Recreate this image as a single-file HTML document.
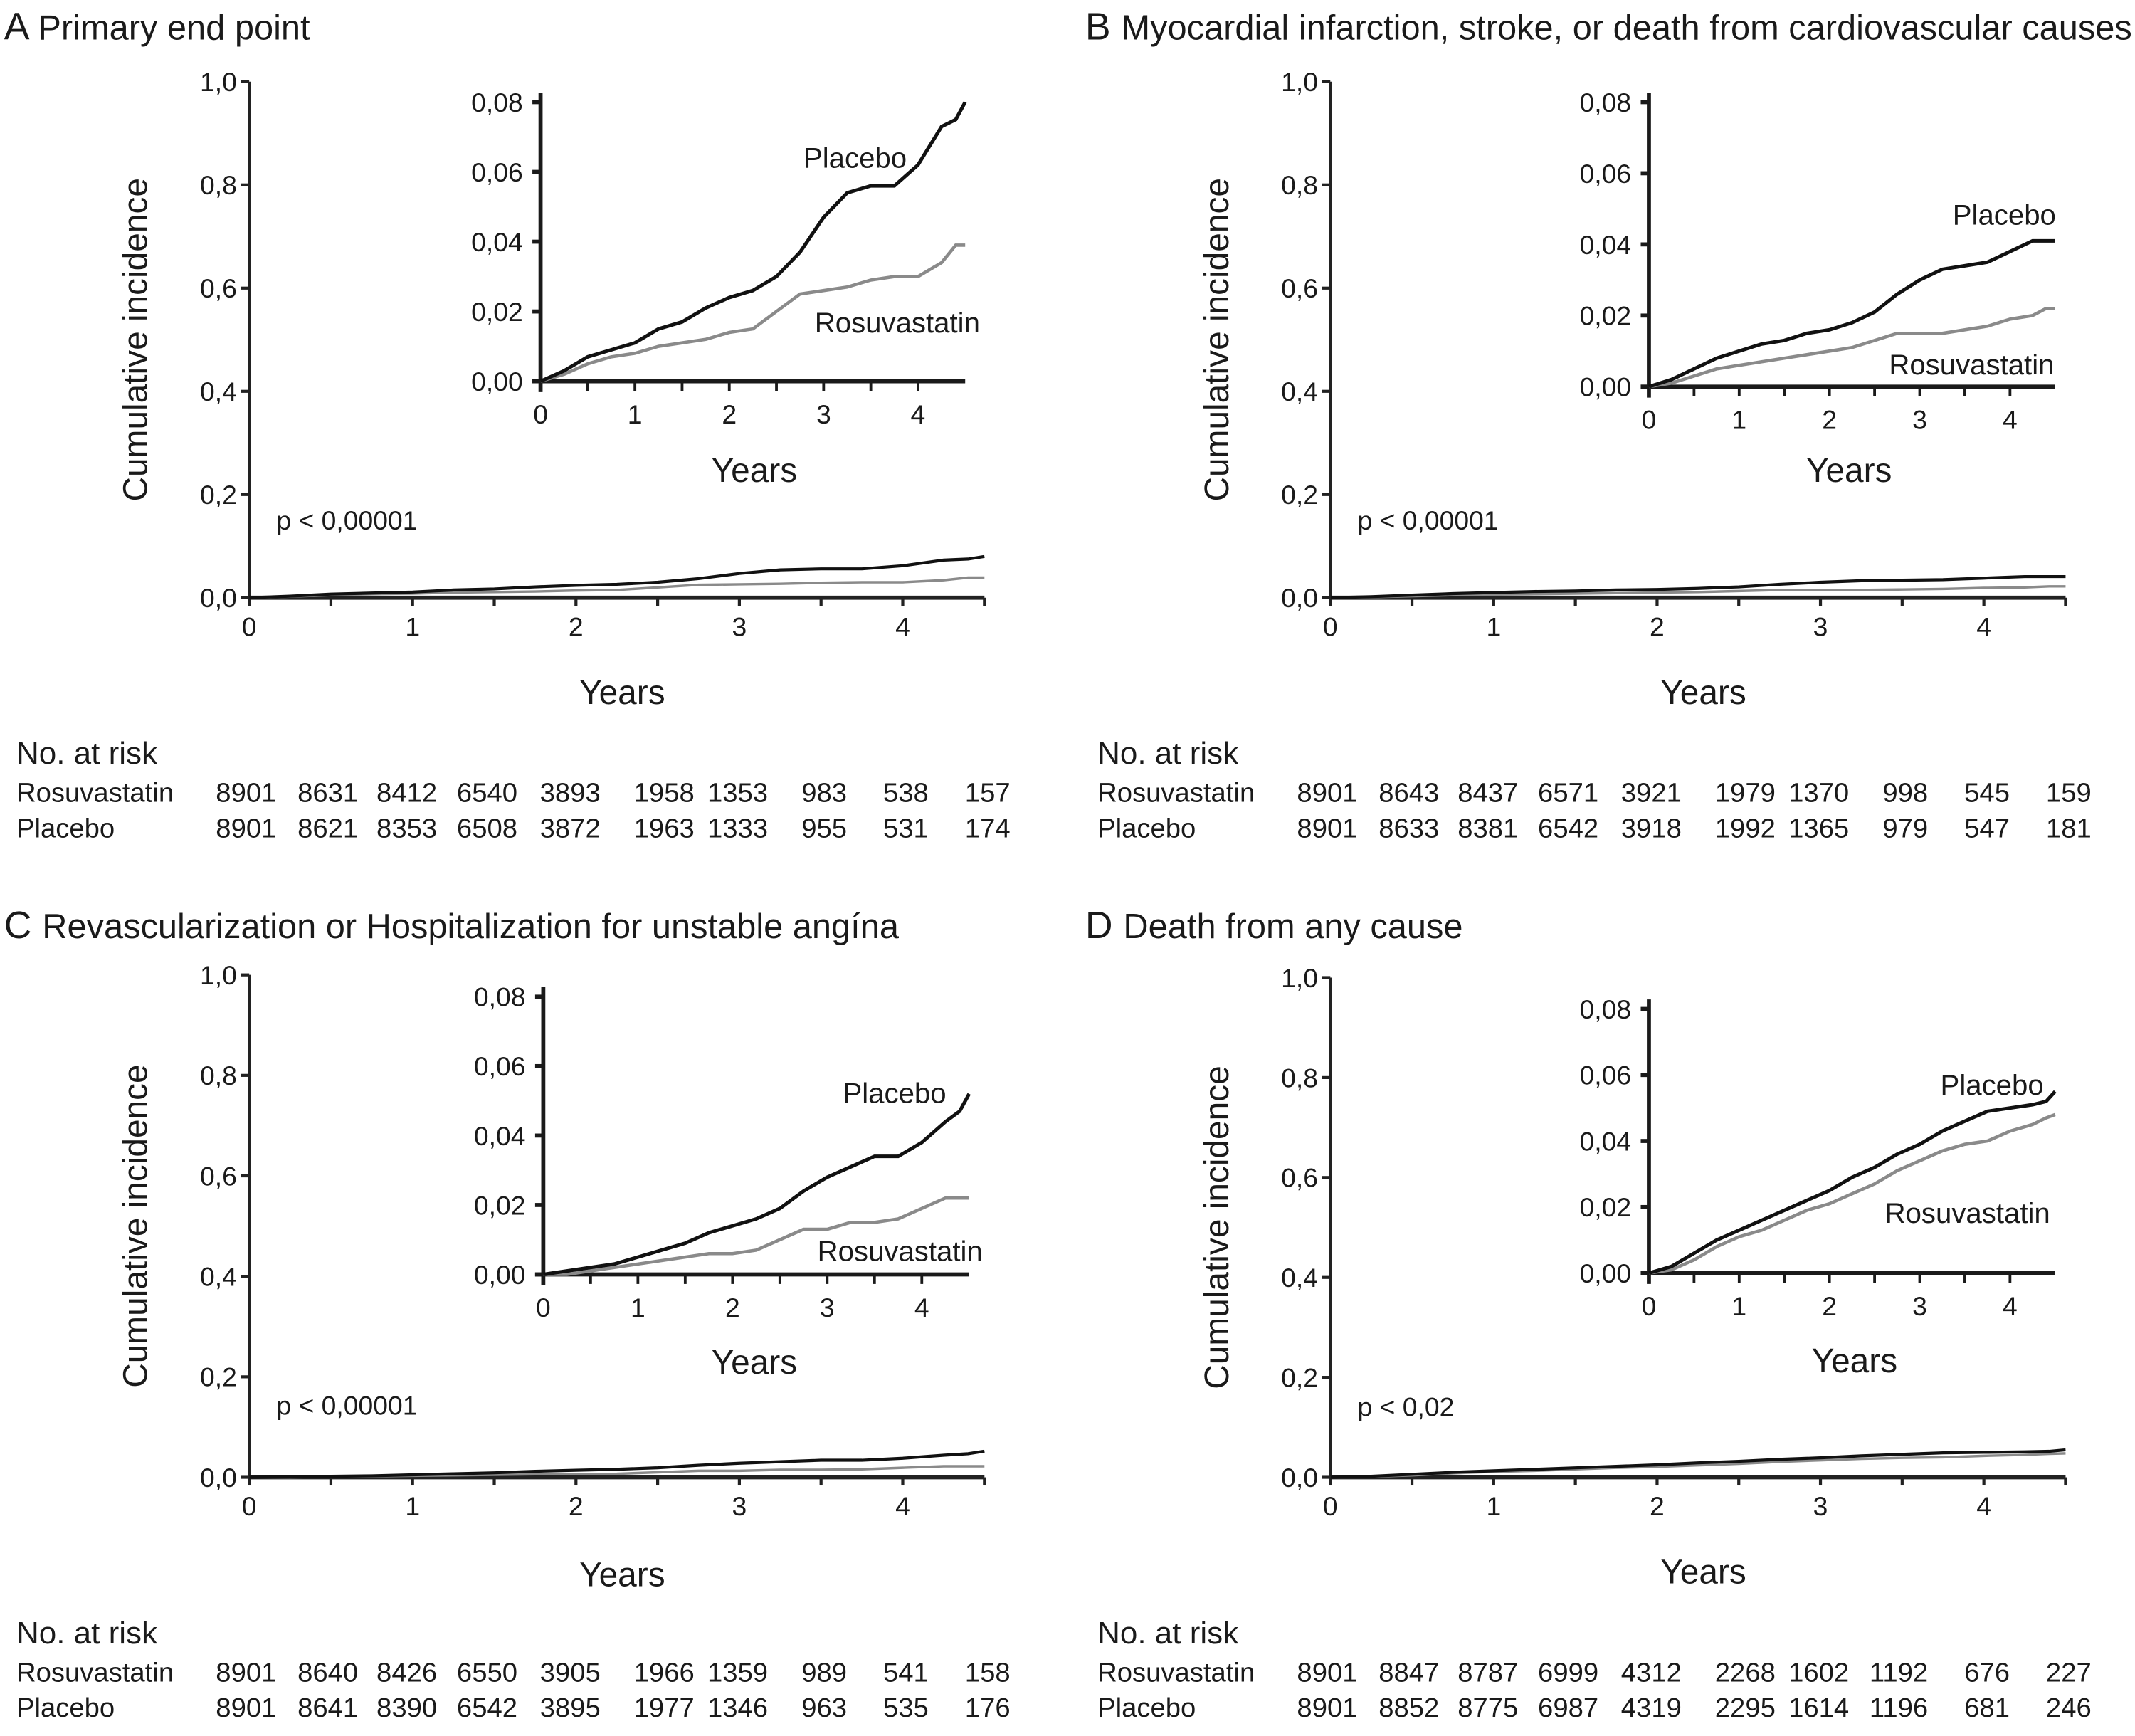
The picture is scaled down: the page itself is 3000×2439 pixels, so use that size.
<!DOCTYPE html>
<html><head><meta charset="utf-8">
<style>
html,body{margin:0;padding:0;background:#fff;}
svg{display:block;}
text{font-family:"Liberation Sans",sans-serif;fill:#1a1a1a;}
</style></head>
<body>
<svg id="fig" width="3000" height="2439" viewBox="0 0 1568 1275" preserveAspectRatio="none" xmlns="http://www.w3.org/2000/svg"></svg>
<script>
// ---- data ----
const times = [0,0.25,0.5,0.75,1,1.25,1.5,1.75,2,2.25,2.5,2.75,3,3.25,3.5,3.75,4,4.25,4.4,4.5];
const aPlacebo = [0,0.003,0.007,0.009,0.011,0.015,0.017,0.021,0.024,0.026,0.030,0.037,0.047,0.054,0.056,0.056,0.062,0.073,0.075,0.080];
const aRosu    = [0,0.002,0.005,0.007,0.008,0.010,0.011,0.012,0.014,0.015,0.020,0.025,0.026,0.027,0.029,0.030,0.030,0.034,0.039,0.039];
const bPlacebo = [0,0.002,0.005,0.008,0.010,0.012,0.013,0.015,0.016,0.018,0.021,0.026,0.030,0.033,0.034,0.035,0.038,0.041,0.041,0.041];
const bRosu    = [0,0.001,0.003,0.005,0.006,0.007,0.008,0.009,0.010,0.011,0.013,0.015,0.015,0.015,0.016,0.017,0.019,0.020,0.022,0.022];
const cPlacebo = [0,0.001,0.002,0.003,0.005,0.007,0.009,0.012,0.014,0.016,0.019,0.024,0.028,0.031,0.034,0.034,0.038,0.044,0.047,0.052];
const cRosu    = [0,0.000,0.001,0.002,0.003,0.004,0.005,0.006,0.006,0.007,0.010,0.013,0.013,0.015,0.015,0.016,0.019,0.022,0.022,0.022];
const dPlacebo = [0,0.002,0.006,0.010,0.013,0.016,0.019,0.022,0.025,0.029,0.032,0.036,0.039,0.043,0.046,0.049,0.050,0.051,0.052,0.055];
const dRosu    = [0,0.001,0.004,0.008,0.011,0.013,0.016,0.019,0.021,0.024,0.027,0.031,0.034,0.037,0.039,0.040,0.043,0.045,0.047,0.048];
const mainYTicks = [0,0.2,0.4,0.6,0.8,1.0];
const mainYLabels = ["0,0","0,2","0,4","0,6","0,8","1,0"];
const insetYTicks = [0,0.02,0.04,0.06,0.08];
const insetYLabels = ["0,00","0,02","0,04","0,06","0,08"];
const xTicks = [0,1,2,3,4];
const riskA_R = ["8901","8631","8412","6540","3893","1958","1353","983","538","157"];
const riskA_P = ["8901","8621","8353","6508","3872","1963","1333","955","531","174"];
const riskB_R = ["8901","8643","8437","6571","3921","1979","1370","998","545","159"];
const riskB_P = ["8901","8633","8381","6542","3918","1992","1365","979","547","181"];
const riskC_R = ["8901","8640","8426","6550","3905","1966","1359","989","541","158"];
const riskC_P = ["8901","8641","8390","6542","3895","1977","1346","963","535","176"];
const riskD_R = ["8901","8847","8787","6999","4312","2268","1602","1192","676","227"];
const riskD_P = ["8901","8852","8775","6987","4319","2295","1614","1196","681","246"];

const NS="http://www.w3.org/2000/svg";
const svg=document.getElementById('fig');
function mk(tag,attrs,parent,txt){const e=document.createElementNS(NS,tag);for(const k in attrs)e.setAttribute(k,attrs[k]);if(txt!==undefined)e.textContent=txt;(parent||svg).appendChild(e);return e;}
function linePath(xs,ys,sx,sy){let d='M'+sx(xs[0])+','+sy(ys[0]);for(let i=1;i<xs.length;i++){d+=' L'+sx(xs[i])+','+sy(ys[i]);}return d;}

const panels=[
 {id:'a',letter:'A',title:'Primary end point',ox:0,main:{x0:183,ppy:120,y0:439,y1:60},inset:{x0:397,ppy:69.3,y0:280,y8:75},
  P:aPlacebo,R:aRosu,pText:'p < 0,00001',pY:389,plab:[628,123],rlab:[659,244],iyears:[554,354],years:517,titleY:29,riskY:561,rR:riskA_R,rP:riskA_P},
 {id:'b',letter:'B',title:'Myocardial infarction, stroke, or death from cardiovascular causes',ox:794,main:{x0:977,ppy:120,y0:439,y1:60},inset:{x0:1211,ppy:66.3,y0:284,y8:75},
  P:bPlacebo,R:bRosu,pText:'p < 0,00001',pY:389,plab:[1472,165],rlab:[1448,275],iyears:[1358,354],years:517,titleY:29,riskY:561,rR:riskB_R,rP:riskB_P},
 {id:'c',letter:'C',title:'Revascularization or Hospitalization for unstable angína',ox:0,main:{x0:183,ppy:120,y0:1085,y1:716},inset:{x0:399,ppy:69.5,y0:936,y8:732},
  P:cPlacebo,R:cRosu,pText:'p < 0,00001',pY:1039,plab:[657,810],rlab:[661,926],iyears:[554,1009],years:1165,titleY:689,riskY:1207,rR:riskC_R,rP:riskC_P},
 {id:'d',letter:'D',title:'Death from any cause',ox:794,main:{x0:977,ppy:120,y0:1085,y1:718},inset:{x0:1211,ppy:66.3,y0:935,y8:741},
  P:dPlacebo,R:dRosu,pText:'p < 0,02',pY:1040,plab:[1463,804],rlab:[1445,898],iyears:[1362,1008],years:1163,titleY:689,riskY:1207,rR:riskD_R,rP:riskD_P}
];
const riskRight=[203,263,321,380,441,510,564,622,682,742];

panels.forEach(p=>{
 const g=mk('g',{});  
 const t=mk('text',{x:p.ox+3,y:p.titleY,'font-size':25.5},g);  
 mk('tspan',{'font-size':28},t,p.letter+' '); mk('tspan',{},t,p.title);
 const m=p.main; const sx=v=>m.x0+v*m.ppy; const sy=v=>m.y0-(m.y0-m.y1)*v;
 const ax=mk('g',{stroke:'#222','stroke-width':2.2,fill:'none'},g);  
 mk('line',{x1:m.x0,y1:m.y1,x2:m.x0,y2:m.y0},ax);
 mk('line',{x1:m.x0,y1:m.y0,x2:sx(4.5),y2:m.y0,'stroke-width':3},ax);
 mainYTicks.forEach((v,i)=>{mk('line',{x1:m.x0-6,y1:sy(v),x2:m.x0,y2:sy(v)},ax);
  const l=mk('text',{x:m.x0-9,y:sy(v)+7,'font-size':19.5,'text-anchor':'end'},g,mainYLabels[i]);  });
 for(let k=0;k<=9;k++){mk('line',{x1:sx(k/2),y1:m.y0,x2:sx(k/2),y2:m.y0+6},ax);}
 xTicks.forEach(v=>{const l=mk('text',{x:sx(v),y:m.y0+28,'font-size':19.5,'text-anchor':'middle'},g,String(v));  });
 const yl=mk('text',{x:0,y:0,'font-size':25,'text-anchor':'middle',transform:`translate(${m.x0-75},${(m.y0+m.y1)/2}) rotate(-90)`},g,'Cumulative incidence');  
 const xl=mk('text',{x:m.x0+274,y:p.years,'font-size':25,'text-anchor':'middle'},g,'Years');  
 const pv=mk('text',{x:m.x0+20,y:p.pY,'font-size':19.5},g,p.pText);  
 const mr=mk('path',{d:linePath(times,p.R,sx,sy),stroke:'#8a8a8a','stroke-width':1.8,fill:'none'},g);  
 const mp=mk('path',{d:linePath(times,p.P,sx,sy),stroke:'#111','stroke-width':2.2,fill:'none'},g);  
 const n=p.inset; const ix=v=>n.x0+v*n.ppy; const iy=v=>n.y0-(n.y0-n.y8)*(v/0.08);
 const ia=mk('g',{stroke:'#1a1a1a','stroke-width':3,fill:'none'},g);  
 mk('line',{x1:n.x0,y1:n.y8-7,x2:n.x0,y2:n.y0+8},ia);
 mk('line',{x1:n.x0-6,y1:n.y0,x2:ix(4.5),y2:n.y0},ia);
 insetYTicks.forEach((v,i)=>{mk('line',{x1:n.x0-6,y1:iy(v),x2:n.x0,y2:iy(v)},ia);
  const l=mk('text',{x:n.x0-13,y:iy(v)+7,'font-size':19.5,'text-anchor':'end'},g,insetYLabels[i]);  });
 for(let k=1;k<=8;k++){mk('line',{x1:ix(k/2),y1:n.y0,x2:ix(k/2),y2:n.y0+7,'stroke-width':2},ia);}
 xTicks.forEach(v=>{const l=mk('text',{x:ix(v),y:n.y0+31,'font-size':19.5,'text-anchor':'middle'},g,String(v));  });
 const iyl=mk('text',{x:p.iyears[0],y:p.iyears[1],'font-size':25,'text-anchor':'middle'},g,'Years');  
 const ir=mk('path',{d:linePath(times,p.R,ix,iy),stroke:'#8a8a8a','stroke-width':2.4,fill:'none'},g);  
 const ip=mk('path',{d:linePath(times,p.P,ix,iy),stroke:'#111','stroke-width':2.6,fill:'none'},g);  
 const pl=mk('text',{x:p.plab[0],y:p.plab[1],'font-size':21,'text-anchor':'middle'},g,'Placebo');  
 const rl=mk('text',{x:p.rlab[0],y:p.rlab[1],'font-size':21,'text-anchor':'middle'},g,'Rosuvastatin');  
 const rt=mk('g',{},g);  
 mk('text',{x:p.ox+12,y:p.riskY,'font-size':23},rt,'No. at risk');
 mk('text',{x:p.ox+12,y:p.riskY+28,'font-size':20},rt,'Rosuvastatin');
 mk('text',{x:p.ox+12,y:p.riskY+54,'font-size':20},rt,'Placebo');
 p.rR.forEach((v,i)=>{mk('text',{x:p.ox+riskRight[i],y:p.riskY+28,'font-size':20,'text-anchor':'end'},rt,v);});
 p.rP.forEach((v,i)=>{mk('text',{x:p.ox+riskRight[i],y:p.riskY+54,'font-size':20,'text-anchor':'end'},rt,v);});
});
</script>
</body></html>
